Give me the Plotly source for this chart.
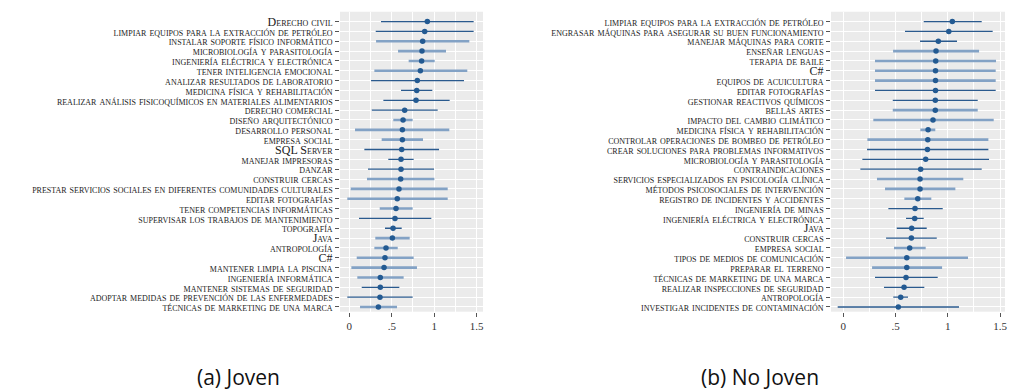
import plotly.graph_objects as go

# ---------------- data: panel (a) Joven ----------------
labels_joven = [
    "Derecho civil",
    "limpiar equipos para la extracción de petróleo",
    "instalar soporte físico informático",
    "microbiología y parasitología",
    "ingeniería eléctrica y electrónica",
    "tener inteligencia emocional",
    "analizar resultados de laboratorio",
    "medicina física y rehabilitación",
    "realizar análisis fisicoquímicos en materiales alimentarios",
    "derecho comercial",
    "diseño arquitectónico",
    "desarrollo personal",
    "empresa social",
    "SQL Server",
    "manejar impresoras",
    "danzar",
    "construir cercas",
    "prestar servicios sociales en diferentes comunidades culturales",
    "editar fotografías",
    "tener competencias informáticas",
    "supervisar los trabajos de mantenimiento",
    "topografía",
    "Java",
    "antropología",
    "C#",
    "mantener limpia la piscina",
    "ingeniería informática",
    "mantener sistemas de seguridad",
    "adoptar medidas de prevención de las enfermedades",
    "técnicas de marketing de una marca",
]
est_joven = [0.919, 0.888, 0.864, 0.856, 0.852, 0.837, 0.801, 0.794, 0.786, 0.652,
             0.633, 0.625, 0.625, 0.617, 0.609, 0.609, 0.605, 0.585, 0.565, 0.550,
             0.538, 0.515, 0.507, 0.432, 0.420, 0.409, 0.365, 0.365, 0.361, 0.342]
lo_joven = [0.373, 0.311, 0.315, 0.574, 0.699, 0.295, 0.256, 0.609, 0.401, 0.264,
            0.518, 0.067, 0.381, 0.177, 0.459, 0.220, 0.208, 0.016, -0.024, 0.358,
            0.114, 0.420, 0.306, 0.295, 0.087, 0.024, 0.094, 0.146, -0.024, 0.126]
hi_joven = [1.465, 1.465, 1.414, 1.139, 1.006, 1.390, 1.351, 0.978, 1.182, 1.041,
            0.746, 1.178, 0.868, 1.057, 0.758, 0.998, 1.002, 1.159, 1.159, 0.746,
            0.966, 0.617, 0.711, 0.570, 0.758, 0.797, 0.640, 0.589, 0.746, 0.562]
# 1 = dark interval group, 0 = light interval group
grupo_joven = [1, 1, 0, 0, 0, 0, 1, 1, 1, 1,
               0, 0, 0, 1, 1, 1, 0, 0, 0, 0,
               1, 1, 0, 0, 0, 0, 0, 1, 1, 0]

# ---------------- data: panel (b) No Joven ----------------
labels_nojoven = [
    "limpiar equipos para la extracción de petróleo",
    "engrasar máquinas para asegurar su buen funcionamiento",
    "manejar máquinas para corte",
    "enseñar lenguas",
    "terapia de baile",
    "C#",
    "equipos de acuicultura",
    "editar fotografías",
    "gestionar reactivos químicos",
    "bellas artes",
    "impacto del cambio climático",
    "medicina física y rehabilitación",
    "controlar operaciones de bombeo de petróleo",
    "crear soluciones para problemas informativos",
    "microbiología y parasitología",
    "contraindicaciones",
    "servicios especializados en psicología clínica",
    "métodos psicosociales de intervención",
    "registro de incidentes y accidentes",
    "ingeniería de minas",
    "ingeniería eléctrica y electrónica",
    "Java",
    "construir cercas",
    "empresa social",
    "tipos de medios de comunicación",
    "preparar el terreno",
    "técnicas de marketing de una marca",
    "realizar inspecciones de seguridad",
    "antropología",
    "investigar incidentes de contaminación",
]
est_nojoven = [1.043, 1.009, 0.909, 0.887, 0.884, 0.882, 0.882, 0.882, 0.880, 0.880,
               0.858, 0.811, 0.808, 0.805, 0.788, 0.740, 0.734, 0.734, 0.712, 0.686,
               0.683, 0.654, 0.651, 0.635, 0.607, 0.607, 0.600, 0.581, 0.549, 0.526]
lo_nojoven = [0.769, 0.590, 0.734, 0.476, 0.303, 0.303, 0.303, 0.303, 0.473, 0.473,
              0.287, 0.737, 0.230, 0.227, 0.182, 0.163, 0.322, 0.399, 0.584, 0.431,
              0.600, 0.511, 0.409, 0.485, 0.026, 0.275, 0.303, 0.389, 0.478, -0.054]
hi_nojoven = [1.324, 1.429, 1.088, 1.299, 1.461, 1.458, 1.458, 1.458, 1.286, 1.286,
              1.439, 0.880, 1.388, 1.388, 1.394, 1.324, 1.148, 1.072, 0.842, 0.951,
              0.769, 0.798, 0.894, 0.788, 1.193, 0.945, 0.903, 0.775, 0.619, 1.107]
grupo_nojoven = [1, 1, 1, 0, 0, 0, 0, 1, 1, 0,
                 0, 0, 0, 1, 1, 1, 0, 0, 0, 1,
                 1, 1, 1, 0, 0, 0, 1, 1, 1, 1]

x_tickvals = [0, 0.5, 1, 1.5]
x_ticktext = ["0", ".5", "1", "1.5"]
captions = ["(a) Joven", "(b) No Joven"]

# ---------------- styles ----------------
DARK = "#2a5a8e"
LIGHT = "#83a2c5"
MARK = "#235a92"
BG = "#ebebeb"
SERIF = "Liberation Serif, DejaVu Serif, serif"
CAPFONT = "Liberation Sans Narrow, Open Sans, sans-serif"

fig = go.Figure()


def add_panel(labels, est, lo, hi, grp, xa, ya):
    for g, color, width in ((0, LIGHT, 2.6), (1, DARK, 1.3)):
        idx = [i for i in range(len(labels)) if grp[i] == g]
        fig.add_trace(go.Scatter(
            x=[est[i] for i in idx],
            y=[labels[i] for i in idx],
            mode="markers",
            marker=dict(color=MARK, size=5.5),
            error_x=dict(type="data", symmetric=False,
                         array=[hi[i] - est[i] for i in idx],
                         arrayminus=[est[i] - lo[i] for i in idx],
                         color=color, thickness=width, width=0),
            xaxis=xa, yaxis=ya, showlegend=False, hoverinfo="skip",
        ))


add_panel(labels_joven, est_joven, lo_joven, hi_joven, grupo_joven, "x", "y")
add_panel(labels_nojoven, est_nojoven, lo_nojoven, hi_nojoven, grupo_nojoven, "x2", "y2")

xcommon = dict(
    tickmode="array", tickvals=x_tickvals, ticktext=x_ticktext,
    showgrid=True, gridcolor="white", gridwidth=1.2,
    minor=dict(tickmode="linear", tick0=0, dtick=0.25, showgrid=True,
               gridcolor="white", gridwidth=1.2, ticks=""),
    ticks="outside", ticklen=4, tickcolor="#555", tickwidth=1,
    tickfont=dict(family=SERIF, size=11, color="#333"),
    zeroline=False, showline=False, fixedrange=True, automargin=False,
)
ycommon = dict(
    type="category", showgrid=True, gridcolor="white", gridwidth=1.2,
    ticks="outside", ticklen=4, tickcolor="#555", tickwidth=1,
    tickfont=dict(family=SERIF, size=12, color="#222", variant="small-caps"),
    zeroline=False, showline=False, domain=[0.2028, 0.970], range=[29.48, -1.0],
    tickmode="array", automargin=False,
)

fig.update_layout(
    width=1013, height=391,
    margin=dict(l=0, r=0, t=0, b=0),
    paper_bgcolor="white", plot_bgcolor=BG,
    xaxis=dict(xcommon, domain=[340 / 1013, 483 / 1013], range=[-0.11, 1.575], anchor="y"),
    yaxis=dict(ycommon, categoryarray=labels_joven, categoryorder="array",
               tickvals=labels_joven, ticktext=labels_joven, anchor="x"),
    xaxis2=dict(xcommon, domain=[831 / 1013, 1005 / 1013], range=[-0.118, 1.547], anchor="y2"),
    yaxis2=dict(ycommon, categoryarray=labels_nojoven, categoryorder="array",
                tickvals=labels_nojoven, ticktext=labels_nojoven, anchor="x2"),
    annotations=[
        dict(text=captions[0], x=238 / 1013, y=1 - 377 / 391, xref="paper", yref="paper",
             showarrow=False, xanchor="center", yanchor="middle",
             font=dict(family=CAPFONT, size=21, color="#111")),
        dict(text=captions[1], x=760 / 1013, y=1 - 377 / 391, xref="paper", yref="paper",
             showarrow=False, xanchor="center", yanchor="middle",
             font=dict(family=CAPFONT, size=21, color="#111")),
    ],
)

fig.write_html("out.html")
